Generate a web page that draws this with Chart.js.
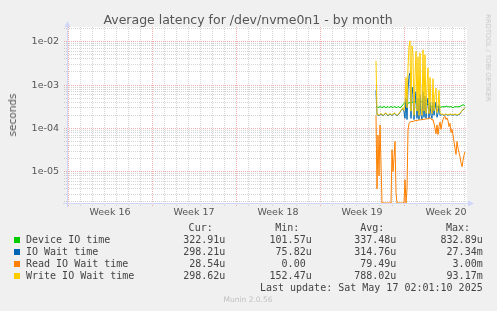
<!DOCTYPE html>
<html>
<head>
<meta charset="utf-8">
<title>Average latency for /dev/nvme0n1 - by month</title>
<script src="https://cdn.jsdelivr.net/npm/chart.js@4.4.1/dist/chart.umd.min.js"></script>
<style>
html,body{margin:0;padding:0;background:#f0f0f0;}
#wrap{position:relative;width:497px;height:311px;overflow:hidden;background:#f0f0f0;}
#c{position:absolute;left:0;top:0;}
.txt{position:absolute;white-space:pre;}
.mono{font-family:"DejaVu Sans Mono",monospace;font-size:10px;line-height:12px;color:#444;}
.sq{position:absolute;width:6px;height:6px;left:14px;}
#title{left:0;width:496px;top:12px;text-align:center;font-family:"DejaVu Sans",sans-serif;font-size:12.5px;line-height:15px;color:#555;}
#ylab{left:11.5px;top:115px;transform:translate(-50%,-50%) rotate(-90deg);font-family:"DejaVu Sans",sans-serif;font-size:10.5px;line-height:12px;color:#555;}
#rrd{left:488px;top:58.3px;transform:translate(-50%,-50%) rotate(90deg);font-family:"DejaVu Sans",sans-serif;font-size:6.8px;line-height:8px;color:#c8c8c8;}
#munin{left:0;width:496px;top:295px;text-align:center;font-family:"DejaVu Sans",sans-serif;font-size:7.5px;line-height:10px;color:#c0c0c0;}
</style>
</head>
<body>
<div id="wrap">
<canvas id="c" width="497" height="311"></canvas>
<div class="txt" id="title">Average latency for /dev/nvme0n1 - by month</div>
<div class="txt" id="ylab">seconds</div>
<div class="txt" id="rrd">RRDTOOL / TOBI OETIKER</div>
<div class="txt" id="munin">Munin 2.0.56</div>
</div>
<script>
// ---- axis definitions (hours relative to Mon 2025-05-12 00:00) ----
const X_MIN = -674, X_MAX = 126;
const weekStarts = [-672, -504, -336, -168, 0];
const weekLabels = ['Week 16', 'Week 17', 'Week 18', 'Week 19', 'Week 20'];
const Y_MIN = 1.893e-6, Y_MAX = 0.02185;
const yDecades = [1e-5, 1e-4, 1e-3, 1e-2];
const yTickLabels = ['1e-05', '1e-04', '1e-03', '1e-02'];

// ---- series (microseconds, one sample every 2 hours) ----
const START_HOUR = -56, STEP_HOURS = 2;
const deviceIO = [310,320,300,310,320,310,300,310,320,310,300,310,320,300,310,320,310,300,320,310,310,300,320,310,300,310,330,350,
  380,390,360,370,390,380,
  400,420,390,410,430,400,420,410,390,420,400,430,410,390,400,380,370,360,350,340,
  320,310,320,310,330,320,310,320,310,320,300,310,320,310,320,310,330,320,310,320,310,320,310,300,310,320,310,320,310,320,320,
  330,340,350,345,323];
const ioWait = [750,205,
  205,195,205,215,205,195,205,215,225,205,195,205,215,205,195,205,225,215,205,195,205,215,235,255,
  270,290,
  240,170,500,160,800,1600,1900,170,900,600,160,400,700,170,500,160,600,200,160,700,180,550,170,350,500,170,400,200,170,400,200,300,400,180,220,350,200,
  205,210,205,200,205,210,205,200,205,210,205,205,200,205,210,205,200,205,210,
  215,235,255,265,280,298];
const readWait = [200,4,70,8,120,15,
  0,0,0,0,0,0,0,0,0,0,
  32,10,21,50,3.3,
  0,0,0,0,0,0,0,0,
  6.5,0,4,90,130,
  140,142,145,144,148,150,152,150,155,157,158,156,160,162,160,165,166,164,168,170,
  175,170,155,160,130,100,75,120,72,110,140,95,130,160,180,190,160,175,150,110,130,80,95,70,50,35,25,50,35,28,22,16,13,18,24,28.5];
const writeWait = [3600,210,
  210,200,210,220,210,200,210,220,230,210,200,210,220,210,200,210,230,220,210,200,210,220,240,260,
  280,300,
  260,400,1500,300,2500,8000,10500,250,8000,5000,200,1500,6000,250,4500,200,5500,300,200,6500,250,5000,220,1000,2500,220,1500,300,220,1400,250,600,850,230,300,750,230,
  210,215,210,205,210,215,210,205,210,215,210,210,205,210,215,210,205,210,215,
  220,240,260,270,285,299];

// ---- legend table ----
const seriesNames = ['Device IO time', 'IO Wait time', 'Read IO Wait time', 'Write IO Wait time'];
const seriesColors = ['#00cc00', '#0066b3', '#ff8000', '#ffcc00'];
const colHeads = ['Cur:', 'Min:', 'Avg:', 'Max:'];
const curVals = ['322.91u', '298.21u', '28.54u', '298.62u'];
const minVals = ['101.57u', '75.82u', '0.00 ', '152.47u'];
const avgVals = ['337.48u', '314.76u', '79.49u', '788.02u'];
const maxVals = ['832.89u', '27.34m', '3.00m', '93.17m'];
const lastUpdate = 'Last update: Sat May 17 02:01:10 2025';

// ---- build HTML legend ----
const wrap = document.getElementById('wrap');
function addText(txt, top, opts) {
  const d = document.createElement('div');
  d.className = 'txt mono';
  d.textContent = txt;
  d.style.top = top + 'px';
  if (opts.right !== undefined) { d.style.right = (497 - opts.right) + 'px'; d.style.textAlign = 'right'; }
  else d.style.left = opts.left + 'px';
  wrap.appendChild(d);
}
const headRights = [212.7, 299.3, 384.3, 470];
const valRights = [225.3, 311.7, 396.3, 482.7];
const headTop = 221.9;
colHeads.forEach((h, i) => addText(h, headTop, {right: headRights[i]}));
seriesNames.forEach((n, r) => {
  const top = headTop + 12 * (r + 1);
  const sq = document.createElement('div');
  sq.className = 'sq';
  sq.style.background = seriesColors[r];
  sq.style.top = (top + 3) + 'px';
  wrap.appendChild(sq);
  addText(n, top, {left: 26});
  [curVals, minVals, avgVals, maxVals].forEach((col, c) => addText(col[r], top, {right: valRights[c]}));
});
addText(lastUpdate, headTop + 60, {right: 482.7});

// ---- ticks ----
const xTicks = [];
for (let h = weekStarts[0]; h <= X_MAX; h += 24) xTicks.push({value: h, kind: weekStarts.includes(h) ? 'week' : 'day', text: ''});
weekStarts.forEach((w, i) => xTicks.push({value: w + 84, kind: 'label', text: weekLabels[i]}));
xTicks.sort((a, b) => a.value - b.value);

const yTicks = [];
[1e-6, ...yDecades].forEach((d, di) => {
  for (let m = 1; m <= 9; m++) {
    const v = m * d;
    if (v < Y_MIN || v > Y_MAX) continue;
    yTicks.push({value: v, kind: m === 1 ? 'major' : 'minor', text: m === 1 ? yTickLabels[di - 1] : ''});
  }
});

const MINOR = 'rgba(143,143,143,0.38)';
const MAJOR = 'rgba(232,93,93,0.5)';
const AXIS = '#cfd6f8';
function gridCol(ctx) {
  const t = ctx.tick;
  if (!t) return MINOR;
  if (t.kind === 'week' || t.kind === 'major') return MAJOR;
  if (t.kind === 'label') return 'rgba(0,0,0,0)';
  return MINOR;
}

const toSec = v => v === 0 ? Y_MIN : v / 1e6;
const mk = arr => arr.map((v, i) => ({x: START_HOUR + STEP_HOURS * i, y: toSec(v)}));

const canvasBg = {
  id: 'canvasBg',
  beforeDraw(chart) {
    const {ctx, chartArea: a} = chart;
    ctx.save();
    ctx.fillStyle = '#ffffff';
    ctx.fillRect(a.left, a.top, a.right - a.left, a.bottom - a.top);
    ctx.restore();
  }
};
const axesPlugin = {
  id: 'axesPlugin',
  beforeDatasetsDraw(chart) {
    const {ctx, chartArea: a} = chart;
    ctx.save();
    ctx.strokeStyle = AXIS; ctx.fillStyle = AXIS; ctx.lineWidth = 1;
    ctx.beginPath(); ctx.moveTo(a.left - 4, a.bottom + 0.5); ctx.lineTo(a.right + 2, a.bottom + 0.5); ctx.stroke();
    ctx.beginPath(); ctx.moveTo(a.left + 0.5, a.bottom + 4); ctx.lineTo(a.left + 0.5, a.top - 2); ctx.stroke();
    ctx.beginPath(); ctx.moveTo(a.right + 7, a.bottom + 0.5); ctx.lineTo(a.right + 1, a.bottom - 2.5); ctx.lineTo(a.right + 1, a.bottom + 3.5); ctx.closePath(); ctx.fill();
    ctx.beginPath(); ctx.moveTo(a.left + 0.5, a.top - 6); ctx.lineTo(a.left - 2.5, a.top); ctx.lineTo(a.left + 3.5, a.top); ctx.closePath(); ctx.fill();
    ctx.restore();
  }
};

const tickFont = {family: 'DejaVu Sans', size: 9.5};
new Chart(document.getElementById('c'), {
  type: 'line',
  data: {
    datasets: [
      {label: seriesNames[0], data: mk(deviceIO), borderColor: seriesColors[0], order: 4},
      {label: seriesNames[1], data: mk(ioWait), borderColor: seriesColors[1], order: 3},
      {label: seriesNames[2], data: mk(readWait), borderColor: seriesColors[2], order: 2},
      {label: seriesNames[3], data: mk(writeWait), borderColor: seriesColors[3], order: 1}
    ]
  },
  options: {
    responsive: false,
    devicePixelRatio: 1,
    animation: false,
    layout: {padding: {left: 0, top: 27, right: 30, bottom: 0}},
    elements: {line: {borderWidth: 1, tension: 0, fill: false}, point: {radius: 0, hoverRadius: 0}},
    plugins: {legend: {display: false}, tooltip: {enabled: false}, title: {display: false}},
    events: [],
    scales: {
      x: {
        type: 'linear', min: X_MIN, max: X_MAX, bounds: 'data',
        afterBuildTicks: s => { s.ticks = xTicks.map(t => ({...t})); },
        afterFit: s => { s.height = 108; },
        grid: {color: gridCol, lineWidth: 1, drawTicks: true, tickLength: 3, tickColor: gridCol, tickBorderDash: [1, 1]},
        border: {display: false, dash: [1, 1]},
        ticks: {autoSkip: false, maxRotation: 0, minRotation: 0, padding: 1, color: '#555', font: tickFont,
          callback: (v, i, t) => t[i].text || ''}
      },
      y: {
        type: 'logarithmic', min: Y_MIN, max: Y_MAX, bounds: 'data',
        afterBuildTicks: s => { s.ticks = yTicks.map(t => ({...t})); },
        afterFit: s => { s.width = 67; },
        grid: {color: gridCol, lineWidth: 1, drawTicks: true, tickLength: 3, tickColor: gridCol, tickBorderDash: [1, 1]},
        border: {display: false, dash: [1, 1]},
        ticks: {autoSkip: false, padding: 5, color: '#555', font: tickFont,
          callback: (v, i, t) => t[i].text || ''}
      }
    }
  },
  plugins: [canvasBg, axesPlugin]
});
</script>
</body>
</html>
